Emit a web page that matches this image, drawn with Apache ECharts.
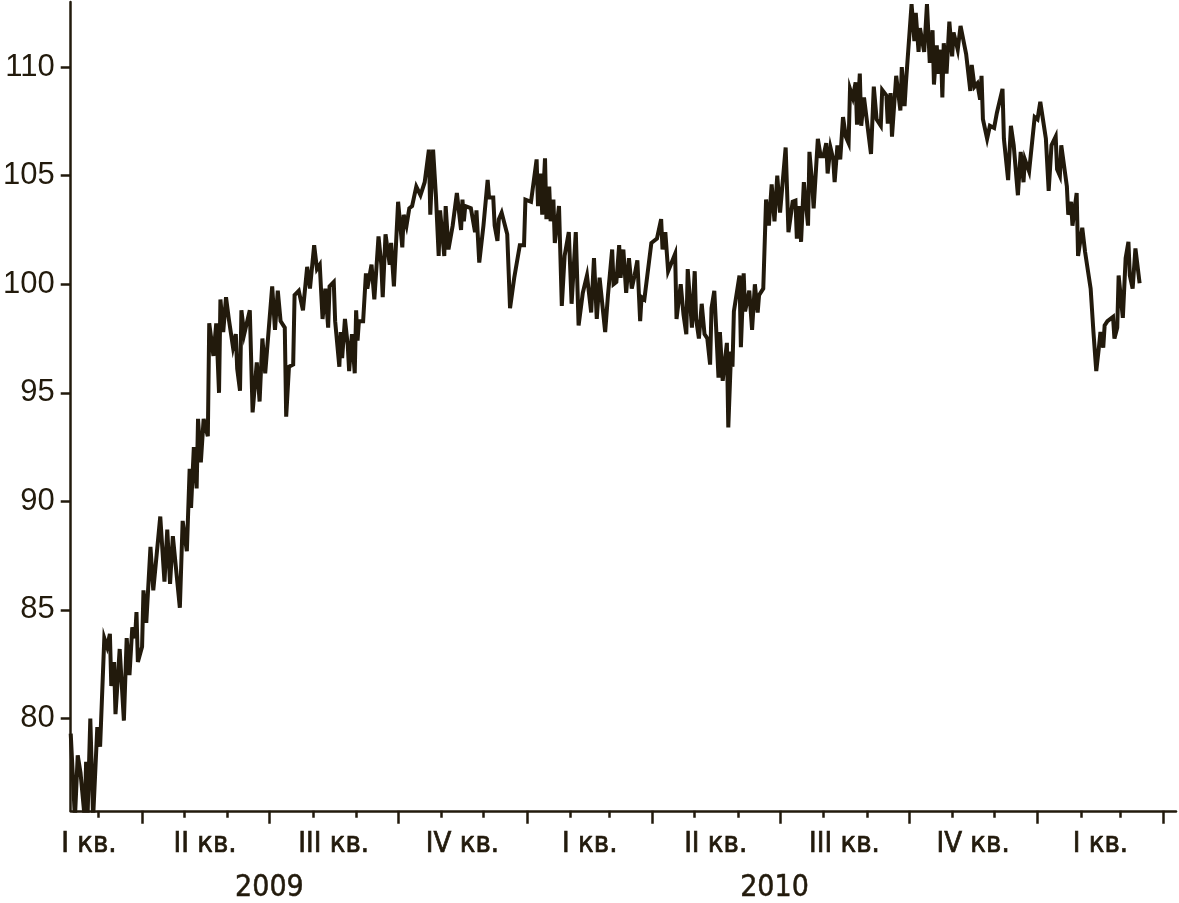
<!DOCTYPE html>
<html><head><meta charset="utf-8">
<script src="https://cdn.jsdelivr.net/npm/echarts@6/dist/echarts.min.js"></script>
<style>html,body{margin:0;padding:0;background:#fff}#c{width:1179px;height:903px}</style>
</head><body><div id="c"></div>
<script>
// day offsets from 9 Feb 2009, index value
const startDate = [2009, 1, 9];
const axisEndDate = [2011, 3, 10];
const pts2009 = [[0,79.3],[3,75.4],[5,78.3],[7,77.5],[10,75.4],[11,78.0],[12,75.4],[14,80.0],[16,75.4],[19,79.6],[21,78.7],[24,83.7],[26,83.3],[28,83.9],[29,81.5],[31,82.6],[32,80.2],[35,83.2],[38,79.9],[40,83.7],[42,82.0],[44,84.2],[46,83.7],[47,84.9],[48,82.6],[51,83.3],[52,85.9],[54,84.4],[57,87.9],[59,85.9],[64,89.3],[67,86.3],[69,88.7],[71,86.2],[73,88.4],[78,85.1],[80,89.1],[83,87.7],[85,91.5],[86,89.7],[88,92.5],[90,90.6],[91,93.8],[93,91.8],[95,93.8],[98,93.0],[99,98.2],[102,96.7],[104,98.2],[106,95.0],[107,99.3],[109,97.8],[111,99.4],[113,98.4],[116,97.1],[118,97.7],[119,96.1],[121,95.1],[122,98.8],[124,97.7],[128,98.8],[130,94.1],[133,96.4],[135,94.6],[137,97.5],[139,95.9],[144,99.9],[146,97.9],[148,99.7],[150,98.3],[153,98.0],[154,93.9],[156,96.2],[159,96.3],[160,99.5],[163,99.7],[166,98.8],[169,100.8],[171,99.8],[174,101.8],[176,100.7],[178,100.9],[180,98.4],[182,99.8],[184,98.0],[185,99.9],[188,100.1],[189,98.3],[192,96.2],[193,97.8],[194,96.6],[196,98.4],[198,97.2],[199,96.0],[201,97.7],[203,95.9],[204,98.8],[205,97.4],[206,98.3],[209,98.3],[211,100.5],[212,99.8],[215,100.9],[217,99.3],[220,102.2],[222,100.9],[223,99.4],[225,102.3],[228,100.9],[229,101.9],[231,99.9],[234,103.8],[237,101.7],[238,103.2],[240,102.7],[242,103.5],[244,103.6],[247,104.5],[250,104.1],[253,104.7],[256,106.2],[257,103.2],[259,106.2],[261,104.1],[263,101.3],[264,103.4],[267,101.3],[268,103.6],[270,101.6],[273,102.7],[276,104.2],[279,102.5],[280,103.9],[281,102.9],[282,103.6],[286,103.5],[289,102.4],[290,103.4],[292,101.0],[295,102.7],[298,104.8],[299,104.0],[302,104.0],[303,102.7],[305,102.0],[306,103.0],[308,103.3],[312,102.3],[314,98.9],[317,100.3],[321,101.8],[324,101.8],[325,103.9]];
const pts2010 = [[329,103.8],[333,105.75],[334,103.6],[336,105.1],[337,103.2],[339,105.8],[340,103.0],[342,104.5],[343,102.9],[345,103.9],[346,101.9],[349,103.6],[351,99.0],[353,101.3],[356,102.4],[358,99.1],[361,102.4],[363,98.1],[366,99.6],[369,100.4],[372,98.7],[374,101.2],[376,98.4],[378,100.3],[382,97.8],[384,99.5],[387,101.6],[388,100.0],[390,100.1],[392,101.8],[393,100.3],[395,101.6],[397,99.6],[399,101.2],[401,99.8],[403,100.4],[405,101.1],[407,98.3],[408,99.4],[410,99.3],[415,101.9],[419,102.1],[422,103.0],[423,101.6],[425,102.4],[427,100.6],[432,101.4],[433,98.4],[436,100.0],[438,98.6],[440,97.7],[441,100.7],[444,98.0],[446,100.6],[447,98.4],[449,97.5],[451,99.1],[453,97.7],[455,97.5],[457,96.3],[458,98.9],[460,99.7],[461,98.4],[463,95.7],[464,97.8],[466,95.55],[469,97.3],[470,93.4],[472,96.9],[473,96.2],[474,98.75],[478,100.4],[479,97.1],[481,100.5],[482,98.75],[485,99.7],[487,97.9],[489,100.0],[491,98.7],[492,99.5],[495,99.8],[497,103.9],[499,102.7],[501,104.6],[503,102.9],[505,105.0],[507,103.3],[511,106.3],[513,102.4],[516,103.8],[518,103.85],[519,102.1],[521,103.6],[522,101.95],[524,104.7],[527,102.7],[528,106.1],[530,104.6],[531,103.5],[534,106.7],[536,105.9],[538,105.9],[540,106.5],[541,105.1],[543,106.3],[545,105.75],[546,104.7],[548,106.4],[550,105.75],[552,107.7],[554,106.8],[556,106.5],[557,109.0],[559,108.6],[561,109.3],[562,107.35],[564,109.7],[565,107.3],[567,108.6],[572,106.0],[574,109.1],[576,107.6],[579,107.3],[580,108.95],[583,108.7],[584,107.4],[586,108.8],[587,106.8],[590,109.6],[593,108.0],[594,110.0],[596,108.2],[597,109.3],[601,112.9],[603,111.2],[604,112.5],[606,110.7],[607,111.8],[610,110.7],[612,112.9],[614,110.2],[616,111.7],[617,109.2],[619,111.0],[620,109.7],[622,110.8],[623,108.6],[624,111.1],[626,109.7],[628,112.1],[630,110.5],[631,111.6],[634,110.8],[636,111.9],[640,110.6],[643,108.9],[644,110.1],[646,109.1],[648,109.25],[650,108.5],[651,109.6],[652,107.6],[655,106.7],[657,107.3],[660,107.2],[662,107.9],[666,109.0],[667,106.7],[670,104.8],[672,107.3],[674,106.4],[677,104.1],[679,106.1],[681,104.7],[682,105.75],[685,105.2],[689,107.7]];
const pts2011 = [[691,107.6],[693,108.4],[697,106.7],[699,104.3],[701,106.4],[704,106.8],[705,105.3],[707,105.0],[708,106.4],[712,104.5],[713,103.2],[715,103.8],[716,102.7],[719,104.2],[720,101.3],[723,102.6],[725,101.5],[729,99.8],[731,97.8],[733,96.0],[735,97.15],[736,97.8],[738,97.08],[739,98.1],[741,98.3],[745,98.5],[746,97.5],[748,98.0],[749,100.4],[752,98.45],[754,101.2],[756,101.95],[757,100.4],[759,99.8],[761,101.65],[764,100.05]];

const quarterLabels = ['I кв.','II кв.','III кв.','IV кв.','I кв.','II кв.','III кв.','IV кв.','I кв.'];
const quarterLabelDates = [[2009,1,22],[2009,4,16],[2009,7,16],[2009,10,16],[2010,1,15],[2010,4,16],[2010,7,16],[2010,10,16],[2011,1,15]];
const quarterStartDates = [[2009,3,1],[2009,6,1],[2009,9,1],[2010,0,1],[2010,3,1],[2010,6,1],[2010,9,1],[2011,0,1],[2011,3,1]];
const yearLabels = ['2009','2010'];
const yearLabelDates = [[2009,6,1],[2010,5,27]];
const yTicks = [80,85,90,95,100,105,110];

const DAY = 86400000;
const ts = a => Date.UTC(a[0], a[1], a[2]);
const t0 = ts(startDate);
const tMax = ts(axisEndDate);
const seriesData = pts2009.concat(pts2010, pts2011).map(p => [t0 + p[0]*DAY, p[1]]);

const monthTicks = [];
for (let y = 2009; y <= 2011; y++) for (let m = 0; m < 12; m++) {
  const t = Date.UTC(y, m, 1);
  if (t > t0 && t < tMax) monthTicks.push(t);
}
const qTickVals = quarterStartDates.map(ts);
const qLabelVals = quarterLabelDates.map(ts);
const qLabelMap = {}; qLabelVals.forEach((v,i) => qLabelMap[v] = quarterLabels[i]);
const yearVals = yearLabelDates.map(ts);
const yearMap = {}; yearVals.forEach((v,i) => yearMap[v] = yearLabels[i]);

const INK = '#221a0c';
const xFont = '"DejaVu Sans Condensed", "Liberation Sans Narrow", sans-serif';

const chart = echarts.init(document.getElementById('c'), null, {renderer: 'canvas'});
chart.setOption({
  animation: false,
  backgroundColor: '#ffffff',
  grid: {left: 67, right: 3, top: 2, bottom: 86, containLabel: false},
  xAxis: [
    {
      type: 'value', min: t0, max: tMax, position: 'bottom', offset: 0,
      axisLine: {show: true, lineStyle: {color: INK, width: 2.5}},
      axisTick: {show: true, customValues: qTickVals, length: 13, lineStyle: {color: INK, width: 2.5}},
      axisLabel: {show: true, customValues: qLabelVals, formatter: v => qLabelMap[v] || '',
        fontSize: 29, fontFamily: xFont, color: INK, margin: 19,
        textBorderColor: INK, textBorderWidth: 0.7},
      splitLine: {show: false}
    },
    {
      type: 'value', min: t0, max: tMax, position: 'bottom', offset: 0,
      axisLine: {show: false},
      axisTick: {show: true, customValues: monthTicks, length: 7, lineStyle: {color: INK, width: 2.5}},
      axisLabel: {show: false},
      splitLine: {show: false}
    },
    {
      type: 'value', min: t0, max: tMax, position: 'bottom', offset: 0,
      axisLine: {show: false},
      axisTick: {show: false},
      axisLabel: {show: true, customValues: yearVals, formatter: v => yearMap[v] || '',
        fontSize: 30, fontFamily: xFont, color: INK, margin: 62,
        textBorderColor: INK, textBorderWidth: 0.5},
      splitLine: {show: false}
    }
  ],
  yAxis: {
    type: 'value', min: 75.75, max: 113,
    axisLine: {show: true, lineStyle: {color: INK, width: 2.5}},
    axisTick: {show: true, customValues: yTicks, length: 10, lineStyle: {color: INK, width: 2.5}},
    axisLabel: {show: true, customValues: yTicks, fontSize: 31, fontFamily: '"Liberation Sans", Arial, sans-serif', color: INK, margin: 16},
    splitLine: {show: false}
  },
  series: [{
    type: 'line', xAxisIndex: 0, yAxisIndex: 0,
    data: seriesData, showSymbol: false, symbol: 'none', clip: true,
    lineStyle: {color: INK, width: 4, join: 'miter', miterLimit: 6}
  }]
});
</script>
</body></html>
